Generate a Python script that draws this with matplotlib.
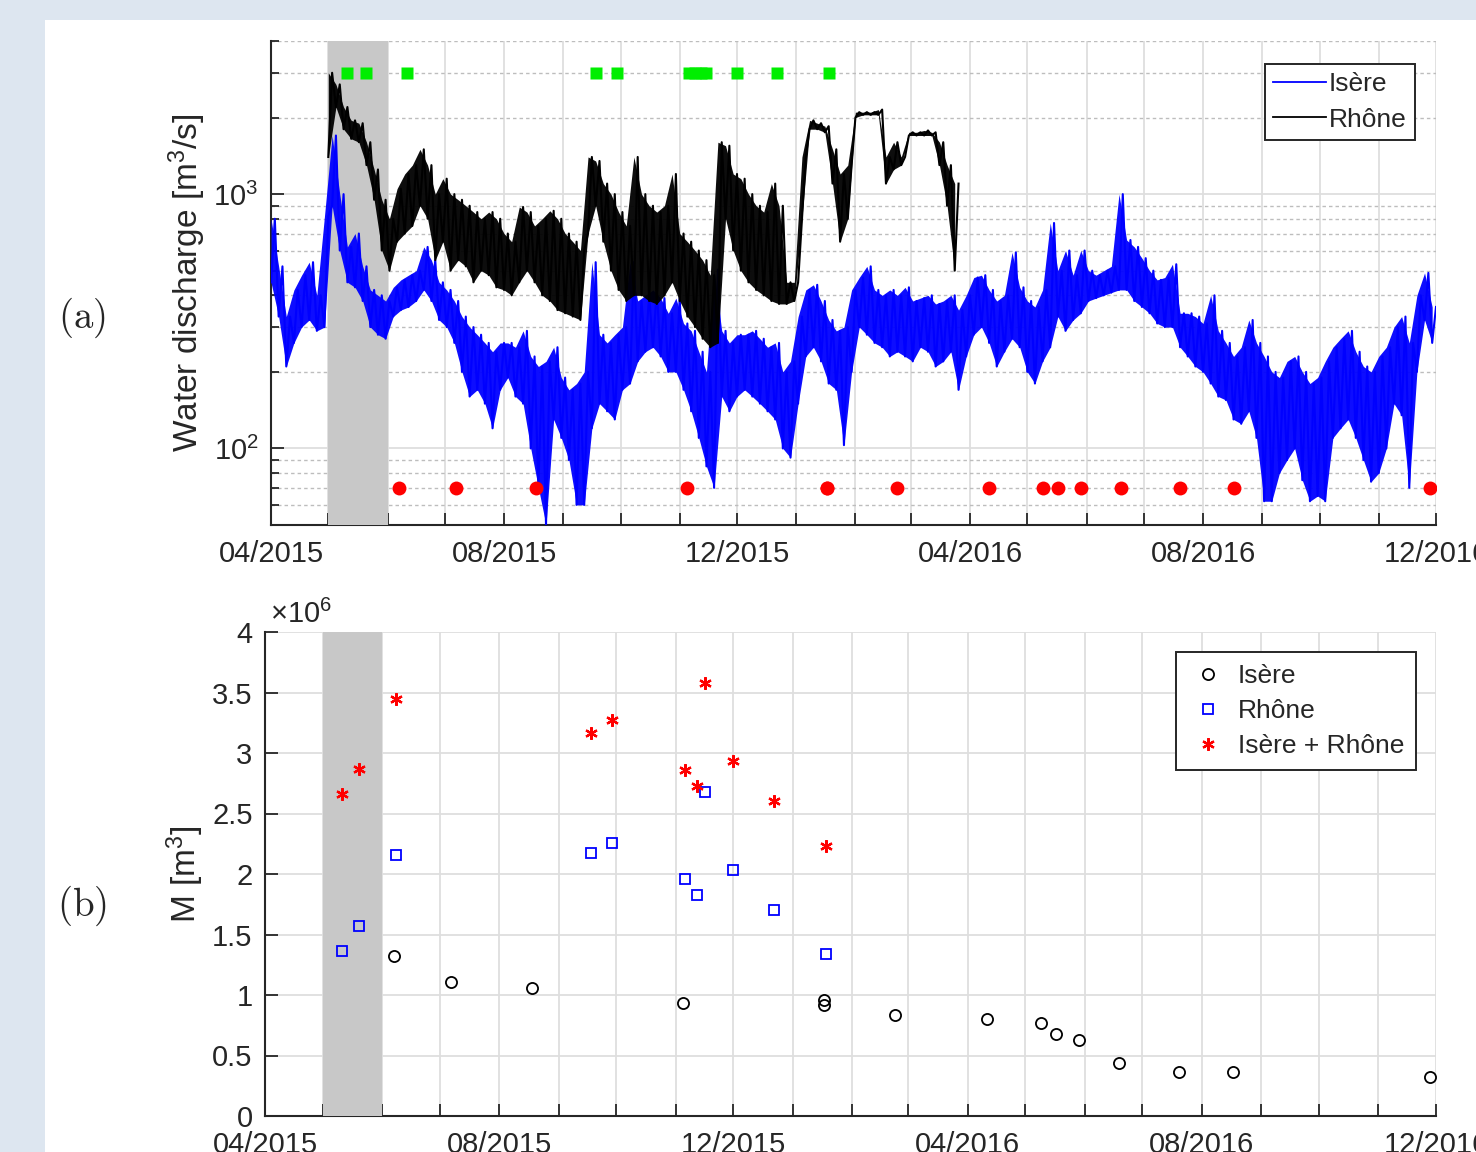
import numpy as np
import matplotlib
matplotlib.use("Agg")
import matplotlib.pyplot as plt
import matplotlib.dates as mdates
import matplotlib.ticker as mticker
from matplotlib.patches import Rectangle
from datetime import datetime

plt.rcParams.update({
    "font.family": ["Liberation Sans", "DejaVu Sans"],
    "mathtext.fontset": "custom",
    "mathtext.rm": "Liberation Sans",
    "mathtext.it": "Liberation Sans:italic",
    "mathtext.bf": "Liberation Sans:bold",
})

# ---------------- data ----------------
START = datetime(2015, 4, 1)          # day 0
END_DAY = 610                          # 2016-12-01
SPAN_DAYS = (30, 61)                   # grey period: May 2015

# Isère discharge envelope (m3/s), one low/high pair every 4 days from day 0
ISERE_STEP = 4
isere_lo = [
    450, 330, 210, 260, 300, 320, 290, 300,
    900, 600, 450, 430, 380, 300, 280,
    270, 330, 350, 360, 380, 420, 380, 320,
    300, 260, 200, 160, 170, 150, 120, 170,
    190, 160, 150, 100, 70, 50, 130, 110,
    90, 60, 60, 120, 150, 140, 130,
    170, 180, 220, 240, 250, 230, 200, 200,
    170, 140, 110, 85, 70, 160, 140,
    160, 170, 160, 150, 140, 130, 100, 92,
    150, 230, 250, 220, 180, 170, 103, 200,
    300, 280, 260, 250, 230, 240, 230,
    220, 250, 240, 210, 220, 240, 170, 230,
    280, 300, 260, 210, 240, 270, 250,
    200, 180, 220, 250, 330, 290, 320, 340,
    380, 390, 400, 410, 420, 420, 380, 360,
    340, 310, 300, 300, 250, 230, 210,
    200, 180, 160, 155, 130, 125, 140, 110,
    62, 62, 80, 90, 100, 75, 62,
    65, 62, 110, 120, 130, 110, 90, 74,
    80, 100, 150, 135, 70, 200, 320, 260,
]
isere_hi = [
    800, 520, 330, 420, 480, 540, 400, 820,
    1700, 1000, 620, 700, 520, 420, 400,
    380, 430, 460, 480, 500, 620, 550, 450,
    420, 380, 330, 300, 280, 260, 240, 260,
    260, 250, 290, 230, 210, 220, 250, 190,
    170, 180, 200, 540, 280, 260, 280,
    300, 540, 380, 400, 420, 390, 340, 390,
    310, 290, 240, 200, 505, 290, 260,
    280, 280, 290, 270, 250, 260, 200, 220,
    330, 420, 440, 380, 320, 290, 300, 420,
    470, 520, 420, 400, 420, 400, 430,
    380, 390, 400, 370, 380, 400, 350, 400,
    470, 480, 420, 380, 400, 590, 430,
    380, 360, 420, 770, 500, 600, 480, 600,
    500, 480, 500, 520, 1000, 660, 620, 560,
    500, 460, 470, 530, 340, 340, 330,
    310, 400, 290, 260, 230, 250, 320, 260,
    230, 200, 190, 220, 230, 200, 180,
    190, 220, 250, 270, 290, 240, 210, 200,
    230, 250, 300, 330, 260, 400, 490, 360,
]

# Rhône discharge envelope (m3/s), one low/high pair every 4 days from day 30
RHONE_START, RHONE_STEP = 30, 4
rhone_lo = [
    1400, 2200, 1800, 1650, 1600, 1300, 950, 600,
    500, 650, 700, 750, 900, 800, 550, 650,
    500, 550, 520, 450, 500, 480, 430, 420,
    400, 450, 500, 450, 400, 380, 350, 340,
    330, 320, 700, 900, 650, 500, 420, 380,
    400, 400, 380, 370, 400, 450, 380, 330,
    300, 270, 250, 260, 800, 600, 500, 450,
    420, 400, 380, 370, 370, 380, 800, 1800,
    1800, 1750, 1100, 650, 800, 2000, 2050, 2050,
    2050, 1100, 1250, 1300, 1700, 1700, 1700, 1700,
    1300, 900, 500,
]
rhone_hi = [
    3000, 2700, 2200, 1950, 1900, 1600, 1250, 950,
    800, 1050, 1200, 1300, 1500, 1300, 1000, 1150,
    1000, 950, 900, 850, 800, 850, 800, 700,
    650, 890, 850, 750, 800, 860, 800, 700,
    650, 600, 1400, 1350, 1100, 1000, 850, 750,
    1400, 1000, 900, 850, 900, 1200, 700, 650,
    600, 550, 480, 1600, 1550, 1200, 1150, 1000,
    900, 850, 1100, 900, 450, 450, 1400, 1950,
    1900, 1850, 1500, 1200, 1300, 2100, 2100, 2100,
    2150, 1400, 1600, 1400, 1750, 1750, 1780, 1750,
    1600, 1300, 1100,
]

# flood event days (green squares) and Isère sampling days (red dots)
flood_days = [40, 50, 71, 170, 181, 219, 222, 225, 228, 244, 265, 292]
FLOOD_MARK_Q = 3000
isere_sample_days = [67, 97, 139, 218, 291, 291, 328, 376, 404, 412, 424, 445, 476, 504, 607]
SAMPLE_MARK_Q = 70

# panel (b): sediment mass M (x 10^6 m3)
isere_M = [1.32, 1.11, 1.06, 0.93, 0.96, 0.915, 0.835, 0.80, 0.77, 0.675,
           0.625, 0.435, 0.36, 0.36, 0.325]
event_days = [40, 49, 68, 170, 181, 219, 225, 229, 244, 265, 292]
rhone_M = [1.36, 1.57, 2.16, 2.17, 2.26, 1.96, 1.83, 2.68, 2.03, 1.70, 1.34]
total_M = [2.66, 2.87, 3.45, 3.165, 3.27, 2.86, 2.73, 3.58, 2.93, 2.60, 2.23]

# ---------------- helpers ----------------
T0 = mdates.date2num(START)


def dnum(days):
    return T0 + np.asarray(days, dtype=float)


def zigzag(start, step, lo, hi):
    n = len(lo)
    d = start + np.arange(n) * step
    x = np.empty(2 * n)
    y = np.empty(2 * n)
    x[0::2], x[1::2] = d, d + step / 2
    y[0::2], y[1::2] = lo, hi
    return dnum(x), y


def draw_series(ax, start, step, lo, hi, color, label, z):
    d = dnum(start + np.arange(len(lo)) * step)
    ax.fill_between(d, lo, hi, color=color, lw=0, alpha=0.95, zorder=z)
    x, y = zigzag(start, step, lo, hi)
    ax.plot(x, y, color=color, lw=1.5, zorder=z + 0.05)
    line, = ax.plot([], [], color=color, lw=1.3, label=label)
    return line


def month_fmt(x, pos):
    d = mdates.num2date(x)
    return d.strftime("%m/%Y") if d.month in (4, 8, 12) else ""


TXT = "#262626"
GRID = "#dedede"
SPAN = "#c8c8c8"

fig = plt.figure(figsize=(14.76, 11.52), dpi=100, facecolor="#dde6f0")
fig.add_artist(Rectangle((45 / 1476, 0), 1 - 45 / 1476, 1 - 20 / 1152,
                         transform=fig.transFigure, facecolor="white",
                         edgecolor="none", zorder=-1))

ax1 = fig.add_axes([271 / 1476, 1 - 525 / 1152, 1165 / 1476, 484 / 1152])
ax2 = fig.add_axes([265 / 1476, 1 - 1116 / 1152, 1171 / 1476, 484 / 1152])

for ax in (ax1, ax2):
    ax.set_axisbelow(True)
    ax.set_xlim(dnum(0), dnum(END_DAY))
    ax.axvspan(dnum(SPAN_DAYS[0]), dnum(SPAN_DAYS[1]), color=SPAN, lw=0, zorder=2.6)
    ax.xaxis.set_major_locator(mdates.MonthLocator())
    ax.xaxis.set_major_formatter(mticker.FuncFormatter(month_fmt))
    for s in ("top", "right"):
        ax.spines[s].set_visible(False)
    for s in ("left", "bottom"):
        ax.spines[s].set_color(TXT)
        ax.spines[s].set_linewidth(1.5)
    ax.tick_params(which="both", direction="in", colors=TXT, labelsize=21,
                   width=1.3)
    ax.tick_params(axis="x", which="major", length=9, pad=11)
    ax.tick_params(axis="y", which="major", length=9, pad=9)
    ax.tick_params(axis="y", which="minor", length=5.5)
    ax.grid(True, which="major", color=GRID, lw=1.3, ls="-")

# ---------- panel (a) ----------
l_is = draw_series(ax1, 0, ISERE_STEP, isere_lo, isere_hi, "#0000ff", "Isère", 3)
l_rh = draw_series(ax1, RHONE_START, RHONE_STEP, rhone_lo, rhone_hi, "black", "Rhône", 3.2)
ax1.plot(dnum(flood_days), [FLOOD_MARK_Q] * len(flood_days), "s", color="#00ee00",
         ms=9, mec="none", zorder=4)
ax1.plot(dnum(isere_sample_days), [SAMPLE_MARK_Q] * len(isere_sample_days), "o",
         color="#ff0000", ms=10, mec="none", zorder=4)

ax1.set_yscale("log")
ax1.set_ylim(50, 4000)
ax1.yaxis.set_major_locator(mticker.LogLocator(base=10, subs=(1.0,)))
ax1.yaxis.set_minor_locator(mticker.LogLocator(base=10, subs=np.arange(2, 10)))
ax1.yaxis.set_minor_formatter(mticker.NullFormatter())
ax1.grid(True, which="minor", axis="y", color="#bdbdbd", lw=1.0, ls=(0, (2.5, 2.2)))
ax1.set_ylabel("Water discharge [m$^3$/s]", fontsize=24, color=TXT, va="center")
ax1.yaxis.set_label_coords(-0.0721, 0.5)

leg1 = ax1.legend(handles=[l_is, l_rh], loc="upper right", bbox_to_anchor=(0.982, 0.9525),
                  fontsize=19, fancybox=False, framealpha=1, edgecolor=TXT,
                  handlelength=2.0, handletextpad=0.1, borderpad=0.32,
                  labelspacing=0.42, borderaxespad=0)
leg1.get_frame().set_linewidth(1.4)
for t in leg1.get_texts():
    t.set_color(TXT)

# ---------- panel (b) ----------
h_i, = ax2.plot(dnum(isere_sample_days), isere_M, "o", mfc="none", mec="black",
                ms=8, mew=1.3, ls="none", zorder=4, label="Isère")
h_r, = ax2.plot(dnum(event_days), rhone_M, "s", mfc="none", mec="#0000ff",
                ms=7, mew=1.3, ls="none", zorder=4, label="Rhône")
h_t, = ax2.plot(dnum(event_days), total_M, marker=(6, 2, 0), color="#ff0000",
                ms=9, mew=1.6, ls="none", zorder=4, label="Isère + Rhône")
ax2.set_ylim(0, 4)
ax2.yaxis.set_major_locator(mticker.MultipleLocator(0.5))
ax2.yaxis.set_major_formatter(mticker.FuncFormatter(lambda v, p: f"{v:g}"))
ax2.text(0.004, 1.0186, r"$\times\mathdefault{10^{6}}$", transform=ax2.transAxes,
         fontsize=21, color=TXT, ha="left", va="baseline")
ax2.set_ylabel("M [m$^3$]", fontsize=24, color=TXT, va="center")
ax2.yaxis.set_label_coords(-0.0683, 0.5)

leg2 = ax2.legend(handles=[h_i, h_r, h_t], loc="upper right", bbox_to_anchor=(0.983, 0.9587),
                  fontsize=19, fancybox=False, framealpha=1, edgecolor=TXT,
                  handlelength=1.5, handletextpad=0.38, borderpad=0.45,
                  labelspacing=0.42, borderaxespad=0)
leg2.get_frame().set_linewidth(1.4)
for t in leg2.get_texts():
    t.set_color(TXT)

# panel letters
fig.text(82 / 1476, 1 - 318 / 1152, r"$\mathrm{(a)}$", math_fontfamily="cm",
         fontsize=28, color=TXT, ha="center", va="center")
fig.text(82 / 1476, 1 - 906 / 1152, r"$\mathrm{(b)}$", math_fontfamily="cm",
         fontsize=28, color=TXT, ha="center", va="center")

fig.savefig("out.png", dpi=100, facecolor=fig.get_facecolor())
